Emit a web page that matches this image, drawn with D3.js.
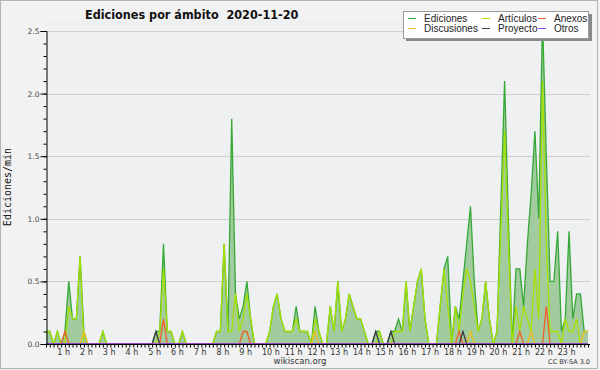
<!DOCTYPE html>
<html><head><meta charset="utf-8">
<script src="https://cdn.jsdelivr.net/npm/d3@7/dist/d3.min.js"></script>
<style>html,body{margin:0;padding:0;background:#f2f2f2;} svg{display:block}</style>
</head><body><svg id="c" width="600" height="370"></svg>
<script>
// 10-minute bins, 00:00 .. 23:50 (edits per minute)
const ediciones = [
 0.1,0.1,0,0.1,0,0.1,0.5,0.2,0.2,0.7,0.1,0,
 0,0,0,0.1,0,0,0,0,0,0,0,0,
 0,0,0,0,0,0.1,0.1,0.8,0.1,0.1,0,0,
 0.1,0,0,0,0,0,0,0,0,0.1,0.1,0.8,
 0.1,1.8,0.4,0.2,0.3,0.5,0.2,0,0,0,0,0.1,
 0.3,0.4,0.2,0.1,0.1,0.1,0.3,0.1,0.1,0.1,0,0.3,
 0.1,0,0,0.3,0.1,0.5,0.1,0.2,0.4,0.3,0.2,0.2,
 0.1,0,0,0.1,0.1,0,0,0.1,0.1,0.2,0.1,0.5,
 0.1,0.3,0.5,0.6,0.2,0,0,0,0.3,0.6,0.7,0,
 0.3,0.2,0.5,0.8,1.1,0.5,0.1,0.2,0.5,0.2,0,0.1,
 1.1,2.1,1.0,0,0.6,0.6,0.3,0.8,1.2,1.7,1.0,2.6,
 1.5,0.5,0.5,0.9,0.1,0.2,0.9,0.2,0.4,0.4,0.1,0.1];
const articulos = [
 0.1,0.1,0,0.1,0,0,0.3,0.2,0.2,0.7,0,0,
 0,0,0,0.1,0,0,0,0,0,0,0,0,
 0,0,0,0,0,0,0.1,0.6,0.1,0.1,0,0,
 0.1,0,0,0,0,0,0,0,0,0.1,0.1,0.8,
 0.1,0.1,0.4,0.1,0.2,0.4,0.2,0,0,0,0,0.1,
 0.3,0.4,0.2,0.1,0.1,0.1,0.2,0.1,0.1,0.1,0,0.2,
 0.1,0,0,0.3,0.1,0.5,0.1,0.2,0.4,0.3,0.2,0.2,
 0.1,0,0,0,0.1,0,0,0,0.1,0.1,0.1,0.5,
 0.1,0.3,0.5,0.6,0.2,0,0,0,0.3,0.6,0.3,0,
 0.3,0.1,0.4,0.6,0.5,0.3,0.1,0.2,0.5,0.2,0,0.1,
 0.9,1.7,0.8,0,0.3,0.1,0.3,0.2,0.1,0.6,0.2,2.1,
 0.8,0.1,0.1,0.1,0,0.2,0.1,0.1,0.2,0,0,0];
const anexos = [
 0,0,0,0,0,0.1,0,0,0,0,0,0,
 0,0,0,0,0,0,0,0,0,0,0,0,
 0,0,0,0,0,0,0,0.2,0,0,0,0,
 0,0,0,0,0,0,0,0,0,0,0,0,
 0,0,0,0,0.1,0.1,0,0,0,0,0,0,
 0,0,0,0,0,0,0,0,0,0,0,0,
 0,0,0,0,0,0,0,0,0,0,0,0,
 0,0,0,0,0,0,0,0,0,0,0,0,
 0,0,0,0,0,0,0,0,0,0,0,0,
 0,0.1,0,0,0,0,0,0,0,0,0,0,
 0,0,0,0,0,0.1,0,0,0,0,0,0,
 0.3,0,0,0,0,0,0,0,0,0,0,0];
const discusiones = [
 0,0,0,0,0,0,0,0,0,0,0.1,0,
 0,0,0,0,0,0,0,0,0,0,0,0,
 0,0,0,0,0,0,0,0,0,0,0,0,
 0,0,0,0,0,0,0,0,0,0,0,0,
 0,0,0,0,0,0,0,0,0,0,0,0,
 0,0,0,0,0,0,0,0,0,0,0,0.1,
 0,0,0,0,0,0,0,0,0,0,0,0,
 0,0,0,0,0,0,0,0,0,0,0,0,
 0,0,0,0,0,0,0,0,0,0,0,0,
 0,0,0,0,0.1,0,0,0,0,0,0,0,
 0,0,0,0,0,0,0,0,0.1,0,0,0,
 0,0,0,0,0,0,0,0,0,0,0.1,0.1];
const proyecto = [
 0,0,0,0,0,0,0,0,0,0,0,0,
 0,0,0,0,0,0,0,0,0,0,0,0,
 0,0,0,0,0,0.1,0,0,0,0,0,0,
 0,0,0,0,0,0,0,0,0,0,0,0,
 0,0,0,0,0,0,0,0,0,0,0,0,
 0,0,0,0,0,0,0,0,0,0,0,0,
 0,0,0,0,0,0,0,0,0,0,0,0,
 0,0,0,0.1,0,0,0,0.1,0,0,0,0,
 0,0,0,0,0,0,0,0,0,0,0,0,
 0,0,0.1,0,0,0,0,0,0,0,0,0,
 0,0,0,0,0,0,0,0,0,0,0,0,
 0,0,0,0,0,0,0,0,0,0,0,0];
const otros = [
 0,0,0,0,0,0,0,0,0,0,0,0, 0,0,0,0,0,0,0,0,0,0,0,0,
 0,0,0,0,0,0,0,0,0,0,0,0, 0,0,0,0,0,0,0,0,0,0,0,0,
 0,0,0,0,0,0,0,0,0,0,0,0, 0,0,0,0,0,0,0,0,0,0,0,0,
 0,0,0,0,0,0,0,0,0,0,0,0, 0,0,0,0,0,0,0,0,0,0,0,0,
 0,0,0,0,0,0,0,0,0,0,0,0, 0,0,0,0,0,0,0,0,0,0,0,0,
 0,0,0,0,0,0,0,0,0,0,0,0, 0,0,0,0,0,0,0,0,0,0,0,0];
const hourLabels = ["1 h","2 h","3 h","4 h","5 h","6 h","7 h","8 h","9 h","10 h","11 h","12 h",
 "13 h","14 h","15 h","16 h","17 h","18 h","19 h","20 h","21 h","22 h","23 h"];
const yTicks = [0,0.5,1.0,1.5,2.0,2.5];
const seriesNames = ["Ediciones","Artículos","Anexos","Discusiones","Proyecto","Otros"];
const seriesColors = ["#36a836","#a6e000","#f0602a","#f0c020","#3c3c3c","#9944ee"];

const svg = d3.select("#c");
const x = d3.scaleLinear().domain([0,143]).range([46,588]);
const y = d3.scaleLinear().domain([0,2.5]).range([344,31]);

svg.append("rect").attr("x",0).attr("y",0).attr("width",600).attr("height",370).attr("fill","#f2f2f2");
svg.append("rect").attr("x",0.5).attr("y",0.5).attr("width",597).attr("height",368)
   .attr("fill","none").attr("stroke","#b4b4b4");
svg.append("rect").attr("x",46).attr("y",20).attr("width",544).attr("height",324).attr("fill","#eef0f2");

// grid
svg.append("g").selectAll("line").data(yTicks.filter(d=>d>0)).join("line")
  .attr("x1",46).attr("x2",590).attr("y1",d=>Math.round(y(d))+0.5).attr("y2",d=>Math.round(y(d))+0.5)
  .attr("stroke","#cfcfcf").attr("stroke-width",1);

const idx = d3.range(ediciones.length);
const area = d3.area().x(i=>x(i)).y0(y(0)).y1(i=>y(ediciones[i]));
svg.append("path").datum(idx).attr("d",area).attr("fill","#a2cba0");

const sets = [ediciones,articulos,anexos,discusiones,proyecto,otros];
const order = [0,1,3,2,4,5];
order.forEach(k=>{
  const line = d3.line().x(i=>x(i)).y(i=>y(sets[k][i]));
  svg.append("path").datum(idx).attr("d",line).attr("fill","none")
    .attr("stroke",seriesColors[k]).attr("stroke-width",1.3).attr("stroke-linejoin","miter");
});

// y axis
const yAxis = d3.axisLeft(y).tickValues(yTicks).tickFormat(d3.format(".1f")).tickSize(6).tickPadding(1);
const gy = svg.append("g").attr("transform","translate(46.5,0)").call(yAxis);
gy.select(".domain").attr("stroke","#000");
gy.selectAll(".tick line").attr("stroke","#000");
gy.selectAll("text").attr("font-family","DejaVu Sans").attr("font-size",7.5).attr("fill","#444");
const yMinor = d3.axisLeft(y).tickValues(d3.range(0,26).map(d=>d/10)).tickFormat("").tickSize(3);
const gy2 = svg.append("g").attr("transform","translate(46.5,0)").call(yMinor);
gy2.select(".domain").remove();
gy2.selectAll(".tick line").attr("stroke","#000");

// x axis
const xAxis = d3.axisBottom(x).tickValues(idx).tickFormat("").tickSize(3);
const gx = svg.append("g").attr("transform","translate(0,344.5)").call(xAxis);
gx.select(".domain").attr("d","M46,0H590").attr("stroke","#000");
gx.selectAll(".tick line").attr("stroke","#000");
svg.append("g").selectAll("text").data(hourLabels).join("text")
  .attr("x",(d,h)=>x(6*(h+1)-3)).attr("y",355)
  .attr("font-family","DejaVu Sans").attr("font-size",8).attr("fill","#333")
  .text(d=>d);

// titles
svg.append("text").attr("x",85).attr("y",19).attr("font-family","DejaVu Sans Condensed").attr("font-weight","bold")
  .attr("font-size",12.5).attr("fill","#111").style("white-space","pre").text("Ediciones por ámbito\u00a0\u00a02020-11-20");
svg.append("text").attr("transform","translate(11,187) rotate(-90)").attr("text-anchor","middle")
  .attr("font-family","DejaVu Sans Mono").attr("font-size",10).attr("fill","#111").text("Ediciones/min");
svg.append("text").attr("x",300).attr("y",364).attr("text-anchor","middle").attr("font-family","DejaVu Sans")
  .attr("font-size",8.5).attr("fill","#333").text("wikiscan.org");
svg.append("text").attr("x",590).attr("y",364).attr("text-anchor","end").attr("font-family","DejaVu Sans")
  .attr("font-size",6.5).attr("fill","#333").text("CC BY-SA 3.0");

// legend
const lg = svg.append("g");
lg.append("rect").attr("x",406).attr("y",14).attr("width",186).attr("height",27).attr("fill","#8a8a8a");
lg.append("rect").attr("x",403.5).attr("y",11.5).attr("width",185).attr("height",27).attr("fill","#fff").attr("stroke","#9a9a9a");
const cols = [408,482,538], rows = [18.5,28.5];
seriesNames.forEach((name,j)=>{
  const cx = cols[j%3], cy = rows[Math.floor(j/3)];
  lg.append("line").attr("x1",cx).attr("x2",cx+8).attr("y1",cy).attr("y2",cy).attr("stroke",seriesColors[j]).attr("stroke-width",1);
  lg.append("text").attr("x",cx+16).attr("y",cy+3.5).attr("font-family","Liberation Sans").attr("font-size",10)
    .attr("fill","#222").text(name);
});
</script></body></html>
